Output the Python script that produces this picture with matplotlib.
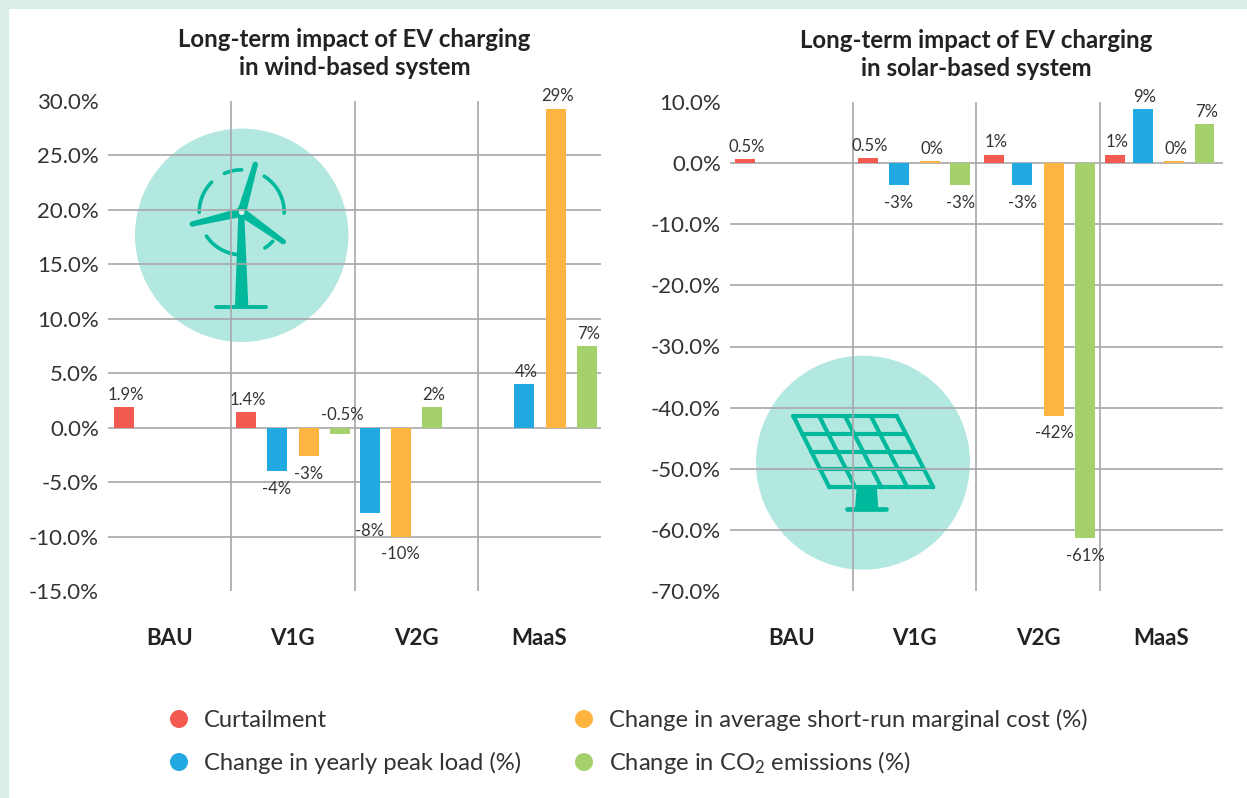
import numpy as np
import matplotlib
matplotlib.use("Agg")
import matplotlib.pyplot as plt
from matplotlib.patches import Circle, Polygon

plt.rcParams['font.family'] = ['Lato', 'DejaVu Sans']
plt.rcParams['mathtext.default'] = 'regular'

categories = ['BAU', 'V1G', 'V2G', 'MaaS']
series_names = ['Curtailment', 'Change in yearly peak load (%)',
                'Change in average short-run marginal cost (%)', r'Change in CO$_2$ emissions (%)']
colors = ['#f45b50', '#23a9e1', '#fdb441', '#a4d16b']

wind_curtailment = [1.9, 1.4, np.nan, np.nan]
wind_peak = [np.nan, -4.0, -7.85, 4.0]
wind_cost = [np.nan, -2.6, -10.0, 29.3]
wind_co2 = [np.nan, -0.55, 1.9, 7.5]
wind_labels = [['1.9%', '1.4%', '', ''], ['', '-4%', '-8%', '4%'],
               ['', '-3%', '-10%', '29%'], ['', '-0.5%', '2%', '7%']]

solar_curtailment = [0.7, 0.8, 1.4, 1.4]
solar_peak = [np.nan, -3.6, -3.6, 8.9]
solar_cost = [np.nan, 0.3, -41.3, 0.3]
solar_co2 = [np.nan, -3.6, -61.3, 6.4]
solar_labels = [['0.5%', '0.5%', '1%', '1%'], ['', '-3%', '-3%', '9%'],
                ['', '0%', '-42%', '0%'], ['', '-3%', '-61%', '7%']]

wind_ticks = [30, 25, 20, 15, 10, 5, 0, -5, -10, -15]
solar_ticks = [10, 0, -10, -20, -30, -40, -50, -60, -70]

# slot of each bar inside its category band, per series then per category
wind_slots = [[.13, .12, 0, 0], [0, .37, .125, .373], [0, .63, .376, .633], [0, .885, .627, .885]]
solar_slots = [[.122, .119, .14, .12], [0, .37, .37, .35], [0, .62, .63, .60], [0, .87, .88, .85]]

W, H = 1247, 798
fig = plt.figure(figsize=(W / 100, H / 100), dpi=100, facecolor='white')
TEXT = '#333333'
GRID = '#a7a7a9'
TEAL = '#00b89c'


def px_axes(x0, y0, x1, y1, **kw):
    return fig.add_axes([x0 / W, 1 - y1 / H, (x1 - x0) / W, (y1 - y0) / H], **kw)


# page strips, icons and legend live in a pixel-scaled layer under the chart axes
bg = px_axes(0, 0, W, H, zorder=0)
bg.set_xlim(0, W)
bg.set_ylim(H, 0)
bg.axis('off')
bg.add_patch(plt.Rectangle((0, 0), W, 9, color='#d9efe8', lw=0))
bg.add_patch(plt.Rectangle((0, 0), 9, H, color='#d9efe8', lw=0))

# wind icon
bg.add_patch(Circle((241.7, 235.3), 106.7, color='#b3e8e0', lw=0, zorder=0.5))
hub = np.array([241.7, 212.3])
for tip in [(255.3, 164.3), (192.3, 224.0), (283.3, 241.7)]:
    tip = np.array(tip)
    d = tip - hub
    n = np.array([-d[1], d[0]]) / np.hypot(*d)
    bg.add_patch(Polygon([hub + n * 4.5, hub - n * 4.5, tip - n * 2.6, tip + n * 2.6], color=TEAL, lw=0))
    bg.add_patch(Circle(tip, 2.6, color=TEAL, lw=0))
bg.add_patch(Polygon([(238.3, 214), (244.3, 214), (248.3, 306), (235, 306)], color=TEAL, lw=0))
bg.plot([216, 266], [307, 307], color=TEAL, lw=2.8, solid_capstyle='round')
for a0, a1 in [(90, 114), (-1, 58), (-57, -43), (-146, -97), (135, 180)]:
    t = np.radians(np.linspace(a0, a1, 40))
    bg.plot(hub[0] + 42.5 * np.cos(t), hub[1] - 42.5 * np.sin(t), color=TEAL, lw=2.6, solid_capstyle='round')
bg.add_patch(Circle(hub, 6, color=TEAL, lw=0))
bg.add_patch(Circle(hub, 2.8, color='#d9f3ee', lw=0))

# solar icon
bg.add_patch(Circle((863, 462.7), 107, color='#b3e8e0', lw=0, zorder=0.5))
TL, TR, BR, BL = map(np.array, [(793.3, 416), (896.7, 416), (933.3, 487.3), (829.3, 487.3)])
for f in np.linspace(0, 1, 5):
    p, q = TL + (BL - TL) * f, TR + (BR - TR) * f
    bg.plot([p[0], q[0]], [p[1], q[1]], color=TEAL, lw=3.0, solid_capstyle='round')
    p, q = TL + (TR - TL) * f, BL + (BR - BL) * f
    bg.plot([p[0], q[0]], [p[1], q[1]], color=TEAL, lw=3.0, solid_capstyle='round')
bg.add_patch(Polygon([(856.7, 487), (876.7, 487), (878.3, 508), (855, 508)], color=TEAL, lw=0))
bg.plot([847, 886], [508.5, 508.5], color=TEAL, lw=3.4, solid_capstyle='round')

# legend: column-first order, as in the series lists
legend_xy = [(179, 719), (179, 762), (584, 719), (584, 762)]
for (lx, ly), name, col in zip(legend_xy, series_names, colors):
    bg.add_patch(Circle((lx, ly), 9, color=col, lw=0))
    bg.text(lx + 25, ly + 8, name, fontsize=17.15, color=TEXT, va='baseline', ha='left')


def draw(rect, values, labels, slots, ticks, title):
    ax = px_axes(*rect, zorder=1)
    ax.patch.set_alpha(0)
    for s in ax.spines.values():
        s.set_visible(False)
    ax.set_xlim(0, 4)
    ax.set_ylim(ticks[-1], ticks[0])
    for vals, labs, slot, col in zip(values, labels, slots, colors):
        xs = np.arange(4) + np.array(slot)
        bars = ax.bar(xs, vals, width=0.162, color=col, zorder=3)
        anns = ax.bar_label(bars, labels=labs, padding=3.5, fontsize=12, color=TEXT, zorder=5)
        for ann, v in zip(anns, vals):
            if ann.get_text() == '-0.5%':
                # this one sits above the axis line in the original
                ann.set_va('bottom')
                ann.xyann = (1.5, 8)
            elif v < 0:
                ann.xyann = (0, -7)
            else:
                ann.xyann = (1.5, 3)
    ax.hlines(ticks[1:-1], 0, 4, color=GRID, lw=1.2, zorder=2)
    ax.vlines([1, 2, 3], ticks[-1], ticks[0], color=GRID, lw=1.2, zorder=2)
    ax.set_yticks(ticks)
    ax.set_yticklabels([f'{t:.1f}%' for t in ticks], fontsize=16, color=TEXT)
    ax.set_xticks(np.arange(4) + 0.5)
    ax.set_xticklabels(categories, fontsize=16, fontweight='bold', color='#222222')
    ax.tick_params(axis='y', length=0, pad=6.5)
    ax.tick_params(axis='x', length=0, pad=26.5)
    ax.set_title(title, fontsize=17.3, fontweight='bold', color='#222222', pad=19, linespacing=1.25)
    return ax


ax1 = draw((108, 101, 601, 591), [wind_curtailment, wind_peak, wind_cost, wind_co2],
           wind_labels, wind_slots, wind_ticks, 'Long-term impact of EV charging\nin wind-based system')
ax2 = draw((730, 102, 1223, 591), [solar_curtailment, solar_peak, solar_cost, solar_co2],
           solar_labels, solar_slots, solar_ticks, 'Long-term impact of EV charging\nin solar-based system')

fig.savefig('out.png', dpi=100)
